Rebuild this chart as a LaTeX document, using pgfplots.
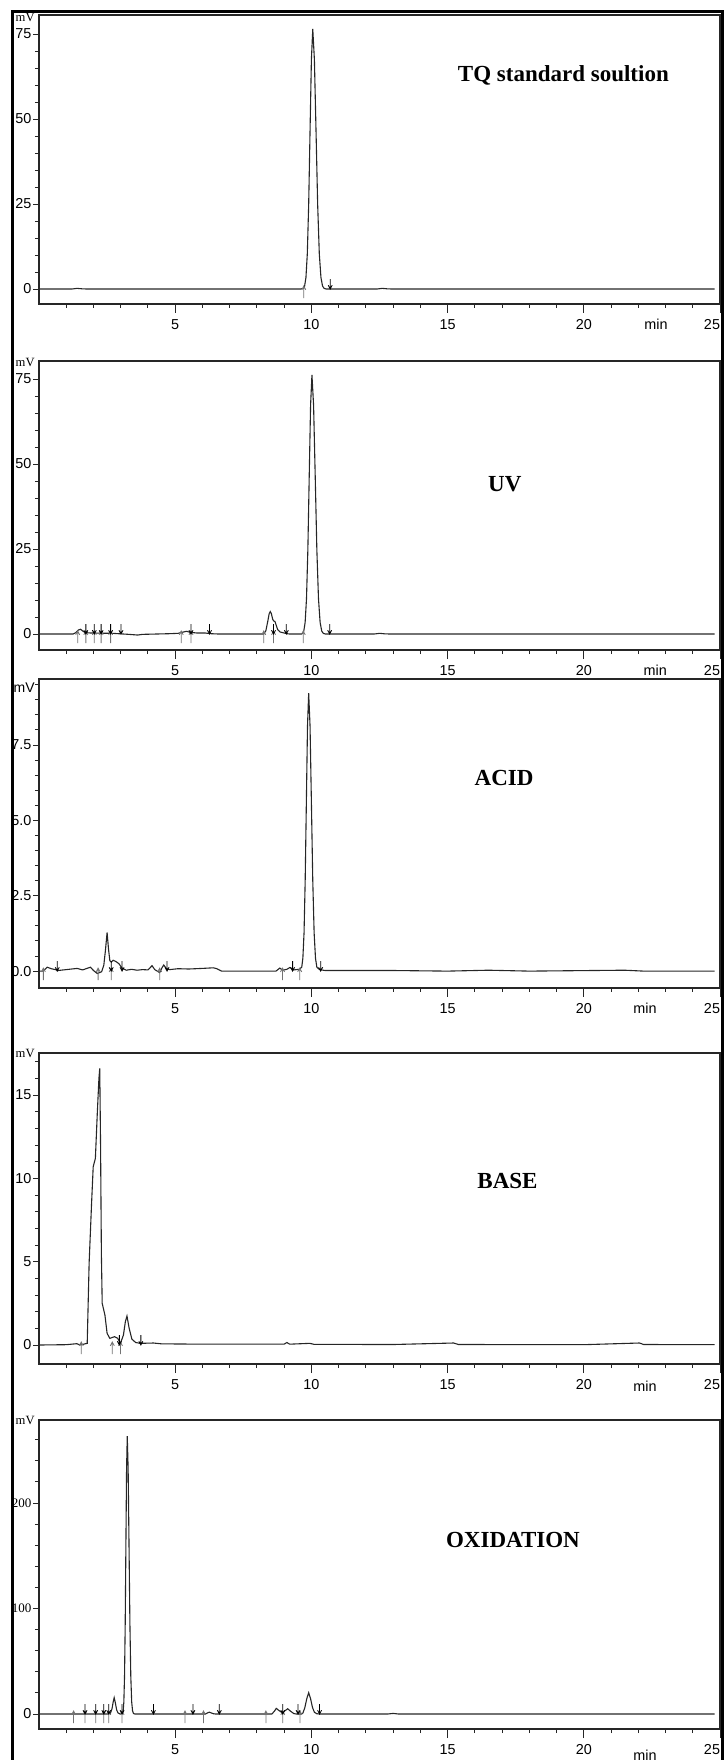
\documentclass[border=0pt]{standalone}
\usepackage{pgfplots}
\pgfplotsset{compat=1.18}
\usepackage{fontspec}
\setmainfont{Liberation Serif}
\newfontfamily\arial{Liberation Sans}

\pgfdeclareplotmark{uarr}{%
  \pgfpathmoveto{\pgfqpoint{0pt}{-4.5pt}}\pgfpathlineto{\pgfqpoint{0pt}{1.5pt}}%
  \pgfpathmoveto{\pgfqpoint{-1pt}{-0.4pt}}\pgfpathlineto{\pgfqpoint{0pt}{1.5pt}}\pgfpathlineto{\pgfqpoint{1pt}{-0.4pt}}%
  \pgfusepathqstroke}
\pgfdeclareplotmark{darr}{%
  \pgfpathmoveto{\pgfqpoint{0pt}{5pt}}\pgfpathlineto{\pgfqpoint{0pt}{0pt}}%
  \pgfpathmoveto{\pgfqpoint{-1pt}{1.9pt}}\pgfpathlineto{\pgfqpoint{0pt}{0pt}}\pgfpathlineto{\pgfqpoint{1pt}{1.9pt}}%
  \pgfusepathqstroke}

\pgfplotsset{
  chrom/.style={
    scale only axis, width=340.5pt, xmin=0, xmax=25, anchor=north west, clip=false,
    axis line style={black!85, line width=0.6pt},
    tick align=outside, tick pos=left,
    xtick={5,10,15,20,25}, xticklabels={5,10,15,20,\llap{25}},
    minor xtick={1,2,3,4,6,7,8,9,11,12,13,14,16,17,18,19,21,22,23,24},
    x tick style={/pgfplots/major tick length=4.5pt, /pgfplots/minor tick length=2pt},
    y tick style={/pgfplots/major tick length=2.8pt, /pgfplots/minor tick length=2pt},
    tick style={black!85, line width=0.5pt},
    ticklabel style={font=\arial\fontsize{7.2}{8}\selectfont},
    yticklabel style={inner sep=0.5pt, xshift=1.2pt},
    sig/.style={black!85, line width=0.55pt, mark=none},
  },
  up/.style={only marks, mark=uarr, mark options={black!55, line width=0.4pt, solid}},
  dn/.style={only marks, mark=darr, mark options={black, line width=0.4pt, solid}},
}
\newcommand{\ttl}{\fontsize{11.5}{13}\selectfont\bfseries}
\newcommand{\mvs}{\fontsize{6.3}{7}\selectfont}
\newcommand{\minlab}{\arial\fontsize{7.2}{8}\selectfont}

\begin{document}
\begin{tikzpicture}
\path[use as bounding box] (0,0) rectangle (362pt,-880pt);

% ---------- Panel 1: TQ standard ----------
\begin{axis}[chrom, at={(19.5pt,-7.5pt)}, height=144.5pt, ymin=-4.4, ymax=80.6,
  ytick={0,25,50,75}, yticklabels={0,25,50,75},
  minor ytick={5,10,15,20,30,35,40,45,55,60,65,70}]
\addplot[sig] coordinates {
(0,0) (1.2,0) (1.4,0.2) (1.6,0.05) (1.8,0) (9.60,0) (9.70,0.15) (9.75,0.85) (9.80,3.4)
(9.85,10.4) (9.90,24.8) (9.95,46.4) (10.00,67.5) (10.05,76.5) (10.11,67.5) (10.17,46.4)
(10.23,24.8) (10.29,10.4) (10.35,3.4) (10.41,0.85) (10.47,0.17) (10.55,0)
(12.4,0) (12.6,0.2) (12.8,0.05) (13.0,0) (24.8,0)};
\addplot[up] coordinates {(9.72,0)};
\addplot[dn] coordinates {(10.69,0)};
\node[anchor=north east, font=\mvs, inner sep=0pt] at ([xshift=-2pt,yshift=1pt]rel axis cs:0,1) {mV};
\node[font=\ttl] at (rel axis cs:0.770,0.792) {TQ standard soultion};
\node[font=\minlab] at ([yshift=-10pt]rel axis cs:0.906,0) {min};
\end{axis}

% ---------- Panel 2: UV ----------
\begin{axis}[chrom, at={(19.5pt,-180.5pt)}, height=144.5pt, ymin=-4.7, ymax=80.3,
  ytick={0,25,50,75}, yticklabels={0,25,50,75},
  minor ytick={5,10,15,20,30,35,40,45,55,60,65,70}]
\addplot[sig] coordinates {
(0,0) (1.25,0) (1.35,0.4) (1.45,1.2) (1.53,1.4) (1.60,0.9) (1.70,0.4) (1.9,0.3) (2.3,0.25)
(2.7,0.2) (3.0,0.05) (3.3,-0.1) (3.62,-0.3) (3.8,-0.1) (4.3,0) (4.8,0.1) (5.1,0.2) (5.25,0.5)
(5.42,0.8) (5.55,0.5) (5.8,0.3) (6.1,0.3) (6.3,0.1) (6.6,0) (8.25,0) (8.33,1.0) (8.40,3.8)
(8.45,6.0) (8.49,6.6) (8.53,6.0) (8.58,4.3) (8.62,3.8) (8.66,3.7) (8.70,2.8) (8.76,1.3)
(8.85,0.6) (8.95,0.4) (9.1,0.1) (9.2,0) (9.62,0) (9.67,0.15) (9.72,0.85) (9.77,3.4)
(9.82,10.4) (9.87,24.8) (9.92,46.4) (9.97,67.3) (10.02,76.2) (10.08,67.3) (10.14,46.4)
(10.20,24.8) (10.26,10.4) (10.32,3.4) (10.38,0.85) (10.44,0.17) (10.52,0)
(12.3,0) (12.5,0.2) (12.7,0.05) (12.9,0) (24.8,0)};
\addplot[up] coordinates {(1.42,0) (1.72,0) (2.03,0) (2.28,0) (2.63,0) (5.22,0) (5.58,0) (8.25,0) (8.61,0) (9.70,0)};
\addplot[dn] coordinates {(1.72,0) (2.03,0) (2.28,0) (2.63,0) (3.01,0) (5.58,0) (6.26,0) (8.61,0) (9.08,0) (10.67,0)};
\node[anchor=north east, font=\mvs, inner sep=0pt] at ([xshift=-2pt,yshift=1.5pt]rel axis cs:0,1) {mV};
\node[font=\ttl] at (rel axis cs:0.684,0.574) {UV};
\node[font=\minlab] at ([yshift=-10pt]rel axis cs:0.905,0) {min};
\end{axis}

% ---------- Panel 3: ACID ----------
\begin{axis}[chrom, at={(19.5pt,-339.5pt)}, height=154.5pt, ymin=-0.56, ymax=9.69,
  ytick={0,2.5,5,7.5}, yticklabels={0.0,2.5,5.0,7.5},
  minor ytick={0.5,1,1.5,2,3,3.5,4,4.5,5.5,6,6.5,7,8,8.5,9,9.5}]
\addplot[sig] coordinates {
(0,0) (0.15,0) (0.3,0.13) (0.45,0.08) (0.6,0.05) (0.7,0.02) (1.0,0.05) (1.4,0.09) (1.6,0.04)
(1.89,0.13) (2.0,0.02) (2.14,-0.08) (2.3,-0.02) (2.38,0.2) (2.44,0.7) (2.50,1.28) (2.55,0.75)
(2.60,0.35) (2.65,0.3) (2.72,0.36) (2.82,0.32) (2.93,0.25) (3.05,0.1) (3.2,0.03) (3.4,0.06)
(3.6,0.03) (3.8,0.05) (4.0,0.04) (4.15,0.18) (4.25,0.05) (4.43,-0.05) (4.52,0.12) (4.58,0.2)
(4.68,0.08) (4.8,0.05) (5.1,0.08) (5.5,0.07) (6.0,0.09) (6.4,0.11) (6.53,0.08) (6.7,0)
(8.7,0) (8.84,0.1) (8.95,0.03) (9.1,0.06) (9.21,0.12) (9.35,0.04) (9.55,0.06) (9.645,0.13)
(9.687,0.43) (9.73,1.27) (9.772,3.01) (9.815,5.6) (9.857,8.14) (9.90,9.22) (9.95,8.14)
(10.0,5.6) (10.05,3.01) (10.1,1.27) (10.15,0.43) (10.2,0.13) (10.3,0.05) (10.5,0.02)
(13,0.02) (15,0) (16.5,0.03) (18,0) (21.5,0.03) (22.2,0) (24.8,0)};
\addplot[up] coordinates {(0.16,0) (2.17,0) (2.65,0) (4.43,0) (8.94,0) (9.57,0)};
\addplot[dn] coordinates {(0.67,0) (2.65,0) (3.05,0) (4.70,0) (9.31,0) (10.34,0)};
\node[anchor=north east, font=\arial\fontsize{7}{8}\selectfont, inner sep=0pt] at ([xshift=-2pt,yshift=-1.5pt]rel axis cs:0,1) {mV};
\node[font=\ttl] at (rel axis cs:0.683,0.680) {ACID};
\node[font=\minlab] at ([yshift=-10pt]rel axis cs:0.89,0) {min};
\end{axis}

% ---------- Panel 4: BASE ----------
\begin{axis}[chrom, at={(19.5pt,-526.5pt)}, height=155.5pt, ymin=-1.14, ymax=17.52,
  ytick={0,5,10,15}, yticklabels={0,5,10,15},
  minor ytick={1,2,3,4,6,7,8,9,11,12,13,14,16,17}]
\addplot[sig] coordinates {
(0,0) (1.0,0.02) (1.39,0.08) (1.5,0) (1.77,0.1) (1.84,4.9) (1.93,8.5) (1.99,10.7) (2.07,11.2)
(2.14,13.9) (2.20,16.0) (2.23,16.6) (2.26,12.0) (2.29,5.5) (2.32,2.5) (2.42,1.8) (2.50,0.7)
(2.60,0.4) (2.77,0.5) (2.89,0.4) (2.99,0.1) (3.10,0.6) (3.17,1.4) (3.23,1.74) (3.31,1.0)
(3.41,0.35) (3.55,0.15) (3.72,0.1) (4.2,0.12) (4.5,0.07) (6,0.05) (9.0,0.05) (9.10,0.15)
(9.2,0.05) (9.94,0.1) (10.1,0.04) (13,0.03) (15.22,0.12) (15.4,0.03) (20,0.02) (22.04,0.12)
(22.2,0.03) (24.8,0.02)};
\addplot[up] coordinates {(1.55,0) (2.69,0) (2.99,0)};
\addplot[dn] coordinates {(2.95,0) (3.74,0)};
\node[anchor=north east, font=\mvs, inner sep=0pt] at ([xshift=-2pt,yshift=2pt]rel axis cs:0,1) {mV};
\node[font=\ttl] at (rel axis cs:0.688,0.588) {BASE};
\node[font=\minlab] at ([yshift=-11pt]rel axis cs:0.89,0) {min};
\end{axis}

% ---------- Panel 5: OXIDATION ----------
\begin{axis}[chrom, at={(19.5pt,-710pt)}, height=154.5pt, ymin=-14.2, ymax=278.7,
  ytick={0,100,200},
  yticklabels={0,{\fontspec{Liberation Serif}\fontsize{6.5}{7}\selectfont 100},{\fontspec{Liberation Serif}\fontsize{6.5}{7}\selectfont 200}},
  minor ytick={20,40,60,80,120,140,160,180,220,240,260}]
\addplot[sig] coordinates {
(0,0) (2.5,0) (2.62,0.5) (2.68,5) (2.72,11) (2.76,15.5) (2.80,11) (2.85,4) (2.9,1) (2.98,0)
(3.06,0.5) (3.09,2.9) (3.115,11.6) (3.14,35.7) (3.165,85.6) (3.19,159.8) (3.215,232.5)
(3.24,263.5) (3.2725,232.5) (3.305,159.8) (3.3375,85.6) (3.37,35.7) (3.4025,11.6)
(3.435,2.9) (3.47,0.5) (3.52,0) (6.1,0) (6.25,1.8) (6.4,0.3) (6.5,0) (8.55,0) (8.65,3)
(8.71,5.4) (8.80,3.5) (8.93,1.2) (9.05,3.5) (9.13,5) (9.22,3) (9.35,0.5) (9.45,0) (9.62,0)
(9.69,1) (9.76,6.2) (9.83,14.5) (9.90,20.2) (9.97,14.5) (10.04,6.2) (10.11,1.7) (10.2,0.3)
(10.3,0) (12.8,0) (13.0,0.6) (13.2,0) (24.8,0)};
\addplot[up] coordinates {(1.27,0) (1.69,0) (2.08,0) (2.38,0) (2.56,0) (3.05,0) (5.36,0) (6.04,0) (8.33,0) (8.95,0) (9.58,0)};
\addplot[dn] coordinates {(1.69,0) (2.08,0) (2.38,0) (2.56,0) (3.05,0) (4.20,0) (5.65,0) (6.62,0) (8.95,0) (9.51,0) (10.30,0)};
\node[anchor=north east, font=\mvs, inner sep=0pt] at ([xshift=-2pt,yshift=2pt]rel axis cs:0,1) {mV};
\node[font=\ttl] at (rel axis cs:0.696,0.612) {OXIDATION};
\node[font=\minlab] at ([yshift=-13pt]rel axis cs:0.89,0) {min};
\end{axis}

\draw[line width=1.5pt] (6pt,-880pt) -- (6pt,-6pt) -- (361pt,-6pt) -- (361pt,-880pt);
\end{tikzpicture}
\end{document}
